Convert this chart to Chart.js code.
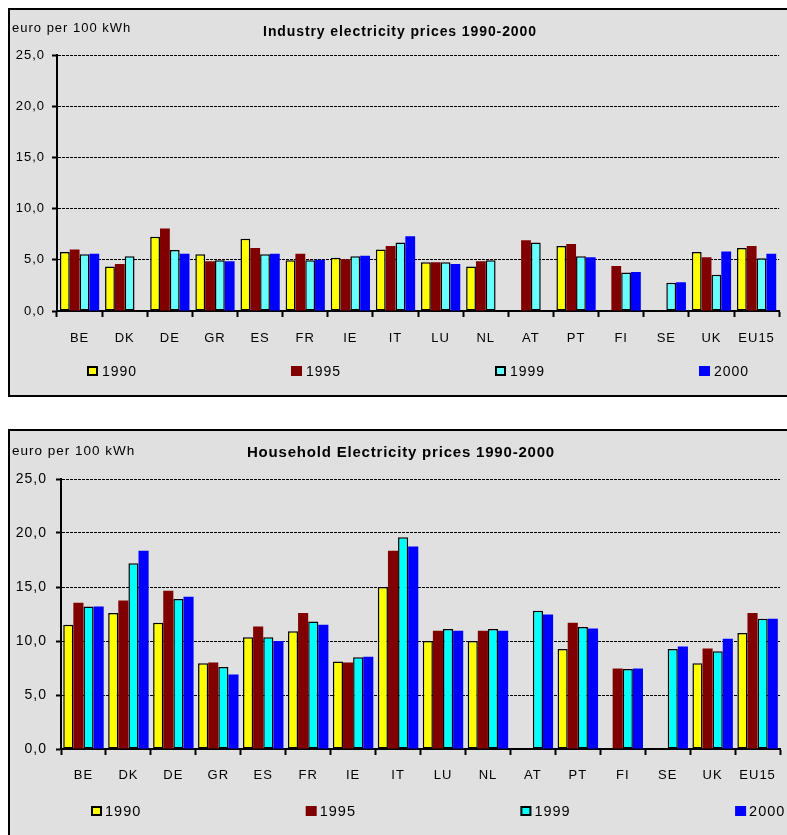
<!DOCTYPE html>
<html>
<head>
<meta charset="utf-8">
<script src="https://cdn.jsdelivr.net/npm/chart.js@4.4.1/dist/chart.umd.min.js"></script>
<style>
  html, body { margin: 0; padding: 0; background: #ffffff; width: 787px; height: 835px; overflow: hidden; }
  .panel { position: absolute; left: 8px; width: 800px; background: #e0e0e0; border: 2px solid #000; }
  #panelIndustry { top: 8px; height: 385px; }
  #panelHousehold { top: 429px; height: 420px; }
  .panel canvas { position: absolute; left: 0; top: 0; }
</style>
</head>
<body>
<div class="panel" id="panelIndustry"><canvas id="industryChart" width="777" height="385"></canvas></div>
<div class="panel" id="panelHousehold"><canvas id="householdChart" width="777" height="404"></canvas></div>
<script>
// Country codes along the x axis
const countries = ['BE', 'DK', 'DE', 'GR', 'ES', 'FR', 'IE', 'IT', 'LU', 'NL', 'AT', 'PT', 'FI', 'SE', 'UK', 'EU15'];
const years = ['1990', '1995', '1999', '2000'];
const yTickLabels = ['0,0', '5,0', '10,0', '15,0', '20,0', '25,0'];
const unitLabel = 'euro per 100 kWh';
const industryTitle = 'Industry electricity prices 1990-2000';
const householdTitle = 'Household Electricity prices 1990-2000';

// Industry prices, euro per 100 kWh
const industry1990 = [5.75, 4.35, 7.25, 5.55, 7.05, 4.95, 5.2, 6.0, 4.75, 4.35, null, 6.35, null, null, 5.75, 6.15];
const industry1995 = [6.0, 4.6, 8.05, 4.85, 6.15, 5.6, 5.05, 6.35, 4.75, 4.85, 6.9, 6.55, 4.4, null, 5.25, 6.35];
const industry1999 = [5.55, 5.35, 5.95, 4.95, 5.55, 4.95, 5.35, 6.7, 4.75, 4.95, 6.7, 5.35, 3.75, 2.75, 3.55, 5.15];
const industry2000 = [5.6, null, 5.6, 4.85, 5.6, 5.0, 5.4, 7.3, 4.6, null, null, 5.25, 3.8, 2.8, 5.8, 5.6];

// Household prices, euro per 100 kWh
const household1990 = [11.5, 12.6, 11.7, 7.95, 10.35, 10.9, 8.1, 15.0, 10.0, 10.0, null, 9.25, null, null, 7.95, 10.75];
const household1995 = [13.55, 13.75, 14.65, 8.0, 11.35, 12.6, 8.0, 18.35, 10.95, 10.95, null, 11.7, 7.45, null, 9.3, 12.6];
const household1999 = [13.2, 17.2, 13.9, 7.6, 10.35, 11.8, 8.5, 19.6, 11.1, 11.1, 12.8, 11.3, 7.4, 9.25, 9.05, 12.05];
const household2000 = [13.2, 18.35, 14.1, 6.9, 10.0, 11.5, 8.55, 18.75, 10.95, 10.95, 12.45, 11.15, 7.45, 9.5, 10.2, 12.05];

const FONT = '"Liberation Sans", Arial, Helvetica, sans-serif';

// Title, unit caption and a four-column legend drawn on the canvas
const panelText = {
  id: 'panelText',
  beforeDraw(chart, args, o) {
    chart.ctx.letterSpacing = o.spacing;
  },
  afterDraw(chart, args, o) {
    const ctx = chart.ctx;
    ctx.save();
    ctx.fillStyle = '#000';
    ctx.textBaseline = 'middle';

    ctx.font = o.unitFont;
    ctx.letterSpacing = o.spacing;
    ctx.textAlign = 'left';
    ctx.fillText(o.unit, o.unitX, o.unitY);

    ctx.font = o.titleFont;
    ctx.letterSpacing = o.titleSpacing;
    ctx.textAlign = 'center';
    ctx.fillText(o.title, o.titleX, o.titleY);

    ctx.font = o.legendFont;
    ctx.letterSpacing = o.spacing;
    ctx.textAlign = 'left';
    chart.data.datasets.forEach((ds, i) => {
      const x = o.legendX + i * o.legendStep;
      const y = o.legendY;
      ctx.fillStyle = ds.backgroundColor;
      ctx.fillRect(x, y - 5, 11, 10);
      if (ds.borderWidth) {
        ctx.lineWidth = 2;
        ctx.strokeStyle = '#000';
        ctx.strokeRect(x + 1, y - 4, 9, 8);
      }
      ctx.fillStyle = '#000';
      ctx.fillText(ds.label, x + o.legendGap, y + 1);
    });
    ctx.restore();
  }
};

function makeDatasets(series, cyan) {
  return [
    { label: years[0], data: series[0], backgroundColor: '#ffff00', borderColor: '#000', borderWidth: 1.5, borderSkipped: false },
    { label: years[1], data: series[1], backgroundColor: '#800000', borderWidth: 0 },
    { label: years[2], data: series[2], backgroundColor: cyan, borderColor: '#000', borderWidth: 1.5, borderSkipped: false },
    { label: years[3], data: series[3], backgroundColor: '#0000ff', borderWidth: 0 }
  ];
}

function makeChart(id, series, cfg) {
  return new Chart(document.getElementById(id), {
    type: 'bar',
    data: { labels: countries, datasets: makeDatasets(series, cfg.cyan) },
    options: {
      responsive: false,
      animation: false,
      events: [],
      layout: { padding: { left: 0, right: 5, top: cfg.top, bottom: 0 } },
      datasets: { bar: { categoryPercentage: cfg.catPct, barPercentage: 1.0 } },
      plugins: {
        legend: { display: false },
        title: { display: false },
        tooltip: { enabled: false },
        panelText: {
          spacing: '1px',
          unit: unitLabel, unitFont: cfg.unitFont, unitX: 2, unitY: cfg.unitY,
          title: cfg.title, titleFont: cfg.titleFont, titleSpacing: cfg.titleSpacing, titleX: cfg.titleX, titleY: cfg.titleY,
          legendFont: cfg.legendFont, legendX: cfg.legendX, legendStep: cfg.legendStep, legendY: cfg.legendY, legendGap: cfg.legendGap
        }
      },
      scales: {
        x: {
          afterFit: s => { s.height = cfg.xHeight; },
          ticks: { color: '#000', font: { family: FONT, size: cfg.xFont }, padding: cfg.xPad, maxRotation: 0, autoSkip: false },
          grid: { offset: true, drawOnChartArea: false, drawTicks: true, tickLength: 6, tickColor: '#000', tickWidth: 2 },
          border: { display: true, color: '#000', width: 2 }
        },
        y: {
          min: 0, max: 25,
          afterFit: s => { s.width = cfg.yWidth; },
          ticks: { stepSize: 5, color: '#000', font: { family: FONT, size: cfg.yFont }, padding: cfg.yPad, callback: (v, i) => yTickLabels[i] },
          grid: { color: '#000', lineWidth: 1, tickLength: 5, tickColor: '#000', tickWidth: 2, tickBorderDash: [] },
          border: { display: true, color: '#000', width: 2, dash: [3, 1] }
        }
      }
    },
    plugins: [panelText]
  });
}

makeChart('industryChart', [industry1990, industry1995, industry1999, industry2000], {
  cyan: '#66ffff', top: 45, catPct: 0.87, xHeight: 84, yWidth: 47,
  xFont: 13, xPad: 14, yFont: 13, yPad: 7,
  unitFont: '13px ' + FONT, unitY: 18,
  title: industryTitle, titleFont: 'bold 14px ' + FONT, titleSpacing: '0.9px', titleX: 390, titleY: 22,
  legendFont: '14px ' + FONT, legendX: 77, legendStep: 204, legendY: 361, legendGap: 15
});

makeChart('householdChart', [household1990, household1995, household1999, household2000], {
  cyan: '#00ffff', top: 48, catPct: 0.9, xHeight: 86, yWidth: 51,
  xFont: 13, xPad: 13, yFont: 14, yPad: 9,
  unitFont: '13.5px ' + FONT, unitY: 20,
  title: householdTitle, titleFont: 'bold 15px ' + FONT, titleSpacing: '0.8px', titleX: 391, titleY: 22,
  legendFont: '14.5px ' + FONT, legendX: 81, legendStep: 214.7, legendY: 380, legendGap: 14
});
</script>
</body>
</html>
